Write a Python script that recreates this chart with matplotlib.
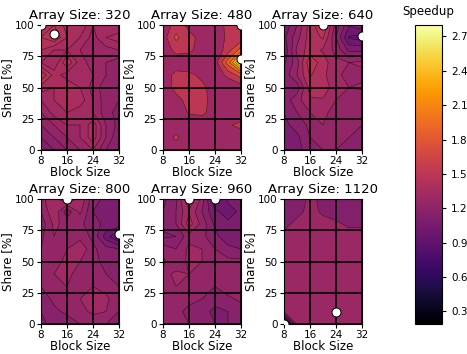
import numpy as np
import matplotlib
matplotlib.use("Agg")
import matplotlib.pyplot as plt
from matplotlib.colors import Normalize
from matplotlib.cm import ScalarMappable
from matplotlib.ticker import MaxNLocator

# ejes comunes
block_sizes = [8, 12, 16, 20, 24, 28, 32]
shares = [0, 10, 20, 30, 40, 50, 60, 70, 80, 90, 100]
array_sizes = [320, 480, 640, 800, 960, 1120]

# speedup por tamaño de array (filas: share 0 -> 100, columnas: block size)
speedup_320 = [
    [1.15, 1.15, 1.20, 1.25, 1.30, 1.20, 1.15],
    [1.15, 1.20, 1.25, 1.30, 1.38, 1.25, 1.15],
    [1.20, 1.25, 1.30, 1.30, 1.38, 1.25, 1.18],
    [1.25, 1.32, 1.35, 1.32, 1.30, 1.22, 1.18],
    [1.30, 1.35, 1.40, 1.38, 1.30, 1.22, 1.20],
    [1.38, 1.35, 1.40, 1.35, 1.28, 1.22, 1.22],
    [1.50, 1.38, 1.32, 1.35, 1.30, 1.25, 1.25],
    [1.35, 1.30, 1.45, 1.32, 1.28, 1.25, 1.22],
    [1.40, 1.35, 1.35, 1.30, 1.30, 1.28, 1.30],
    [1.45, 1.50, 1.40, 1.35, 1.28, 1.35, 1.38],
    [1.40, 1.45, 1.38, 1.40, 1.30, 1.35, 1.30],
]
speedup_480 = [
    [1.22, 1.25, 1.25, 1.22, 1.22, 1.22, 1.22],
    [1.25, 1.45, 1.25, 1.22, 1.22, 1.25, 1.30],
    [1.25, 1.28, 1.25, 1.25, 1.30, 1.38, 1.45],
    [1.25, 1.28, 1.42, 1.45, 1.30, 1.25, 1.25],
    [1.25, 1.35, 1.45, 1.48, 1.30, 1.25, 1.25],
    [1.30, 1.45, 1.48, 1.45, 1.30, 1.25, 1.28],
    [1.30, 1.45, 1.45, 1.35, 1.28, 1.45, 1.70],
    [1.25, 1.30, 1.25, 1.25, 1.30, 1.90, 2.80],
    [1.30, 1.45, 1.45, 1.30, 1.25, 1.50, 1.90],
    [1.30, 1.65, 1.45, 1.35, 1.25, 1.45, 1.45],
    [1.25, 1.50, 1.35, 1.30, 1.30, 1.45, 1.40],
]
speedup_640 = [
    [1.05, 1.10, 1.15, 1.20, 1.20, 1.20, 1.20],
    [1.05, 1.10, 1.20, 1.25, 1.22, 1.20, 1.20],
    [1.10, 1.15, 1.22, 1.28, 1.25, 1.22, 1.20],
    [1.12, 1.20, 1.28, 1.30, 1.25, 1.25, 1.28],
    [1.15, 1.25, 1.35, 1.35, 1.28, 1.22, 1.20],
    [1.20, 1.15, 1.40, 1.42, 1.30, 1.28, 1.30],
    [1.15, 1.28, 1.45, 1.38, 1.30, 1.25, 1.25],
    [1.10, 1.25, 1.50, 1.40, 1.30, 1.28, 1.30],
    [1.05, 1.30, 1.40, 1.35, 1.25, 1.10, 1.10],
    [1.10, 1.25, 1.40, 1.45, 1.20, 0.95, 0.92],
    [1.05, 1.20, 1.40, 1.52, 1.25, 1.05, 1.10],
]
speedup_800 = [
    [1.10, 1.15, 1.15, 1.20, 1.22, 1.20, 1.18],
    [1.12, 1.18, 1.22, 1.25, 1.30, 1.28, 1.20],
    [1.15, 1.22, 1.25, 1.28, 1.32, 1.30, 1.22],
    [1.20, 1.25, 1.28, 1.25, 1.28, 1.25, 1.20],
    [1.25, 1.28, 1.30, 1.25, 1.22, 1.20, 1.18],
    [1.22, 1.25, 1.30, 1.28, 1.22, 1.18, 1.15],
    [1.20, 1.25, 1.28, 1.35, 1.22, 1.15, 1.12],
    [1.18, 1.28, 1.25, 1.25, 1.18, 1.00, 0.85],
    [1.15, 1.30, 1.25, 1.22, 1.15, 1.10, 1.10],
    [1.20, 1.35, 1.15, 1.30, 1.12, 1.08, 1.10],
    [1.25, 1.35, 1.42, 1.35, 1.15, 1.10, 1.10],
]
speedup_960 = [
    [1.25, 1.22, 1.20, 1.15, 1.12, 1.12, 1.15],
    [1.25, 1.22, 1.18, 1.15, 1.10, 1.12, 1.15],
    [1.20, 1.25, 1.22, 1.20, 1.15, 1.18, 1.22],
    [1.20, 1.28, 1.25, 1.22, 1.20, 1.25, 1.25],
    [1.25, 1.30, 1.28, 1.25, 1.22, 1.25, 1.25],
    [1.30, 1.22, 1.30, 1.28, 1.25, 1.22, 1.22],
    [1.25, 1.20, 1.30, 1.28, 1.20, 1.15, 1.12],
    [1.10, 1.12, 1.25, 1.22, 1.15, 1.05, 1.05],
    [1.15, 1.20, 1.40, 1.25, 1.10, 1.05, 1.05],
    [1.12, 1.20, 1.35, 1.20, 1.05, 1.02, 1.05],
    [1.10, 1.18, 1.45, 1.25, 0.95, 1.05, 1.10],
]
speedup_1120 = [
    [0.19, 1.25, 1.25, 1.25, 1.25, 1.25, 1.25],
    [1.22, 1.25, 1.25, 1.28, 1.30, 1.25, 1.25],
    [1.25, 1.25, 1.25, 1.25, 1.25, 1.25, 1.25],
    [1.25, 1.25, 1.25, 1.25, 1.25, 1.25, 1.25],
    [1.25, 1.25, 1.25, 1.25, 1.25, 1.25, 1.25],
    [1.25, 1.25, 1.25, 1.25, 1.25, 1.25, 1.25],
    [1.25, 1.25, 1.25, 1.25, 1.25, 1.25, 1.25],
    [1.22, 1.25, 1.25, 1.25, 1.25, 1.25, 1.25],
    [1.18, 1.22, 1.25, 1.22, 1.22, 1.18, 1.18],
    [1.12, 1.18, 1.22, 1.19, 1.15, 1.10, 1.12],
    [1.10, 1.15, 1.22, 1.18, 1.10, 1.10, 1.22],
]

# puntos marcados (block size, share)
markers_320 = [(8, 100), (12, 93)]
markers_480 = [(32, 100), (32, 73)]
markers_640 = [(20, 100), (32, 91)]
markers_800 = [(16, 100), (32, 72)]
markers_960 = [(16, 100), (24, 100)]
markers_1120 = [(8, 0), (24, 10)]

datos = [speedup_320, speedup_480, speedup_640, speedup_800, speedup_960, speedup_1120]
marcas = [markers_320, markers_480, markers_640, markers_800, markers_960, markers_1120]

vmin, vmax = 0.19, 2.8
norm = Normalize(vmin=vmin, vmax=vmax)
cmap = plt.get_cmap("inferno")

fig = plt.figure(figsize=(4.67, 3.54), dpi=100)

lefts = [41, 163, 284]
bottoms = [204, 30]
W, H = 467.0, 354.0

X, Y = np.meshgrid(block_sizes, shares)

for i, (size, z, mk) in enumerate(zip(array_sizes, datos, marcas)):
    fila, col = divmod(i, 3)
    ax = fig.add_axes([lefts[col] / W, bottoms[fila] / H, 78 / W, 125 / H])
    Z = np.array(z)
    # niveles automáticos que cubran todo el rango
    lev = MaxNLocator(8).tick_values(Z.min() - 1e-6, Z.max() + 1e-6)
    ax.contourf(X, Y, Z, levels=lev, cmap=cmap, norm=norm)
    ax.contour(X, Y, Z, levels=lev, colors="black", linewidths=0.45, alpha=0.6)
    mx = [p[0] for p in mk]
    my = [p[1] for p in mk]
    ax.scatter(mx, my, s=42, color="white", edgecolors="black", linewidths=0.7, zorder=3)
    ax.set_xlim(8, 32)
    ax.set_ylim(0, 100)
    ax.set_xticks([8, 16, 24, 32])
    ax.set_yticks([0, 25, 50, 75, 100])
    ax.grid(True, color="black", linewidth=1.2)
    ax.tick_params(labelsize=7.5, length=3, pad=1.5)
    ax.set_xlabel("Block Size", fontsize=8.6, labelpad=-0.5)
    ax.set_ylabel("Share [%]", fontsize=8.6, labelpad=1)
    ax.set_title(f"Array Size: {size}", fontsize=9.5, pad=4)

cax = fig.add_axes([415 / W, 30 / H, 27 / W, 299 / H])
sm = ScalarMappable(norm=norm, cmap=cmap)
cbar = fig.colorbar(sm, cax=cax, ticks=[0.3, 0.6, 0.9, 1.2, 1.5, 1.8, 2.1, 2.4, 2.7])
cbar.ax.tick_params(labelsize=7.5, length=3)
cbar.ax.set_title("Speedup", fontsize=8.5, pad=7)

fig.savefig("out.png", dpi=100)
